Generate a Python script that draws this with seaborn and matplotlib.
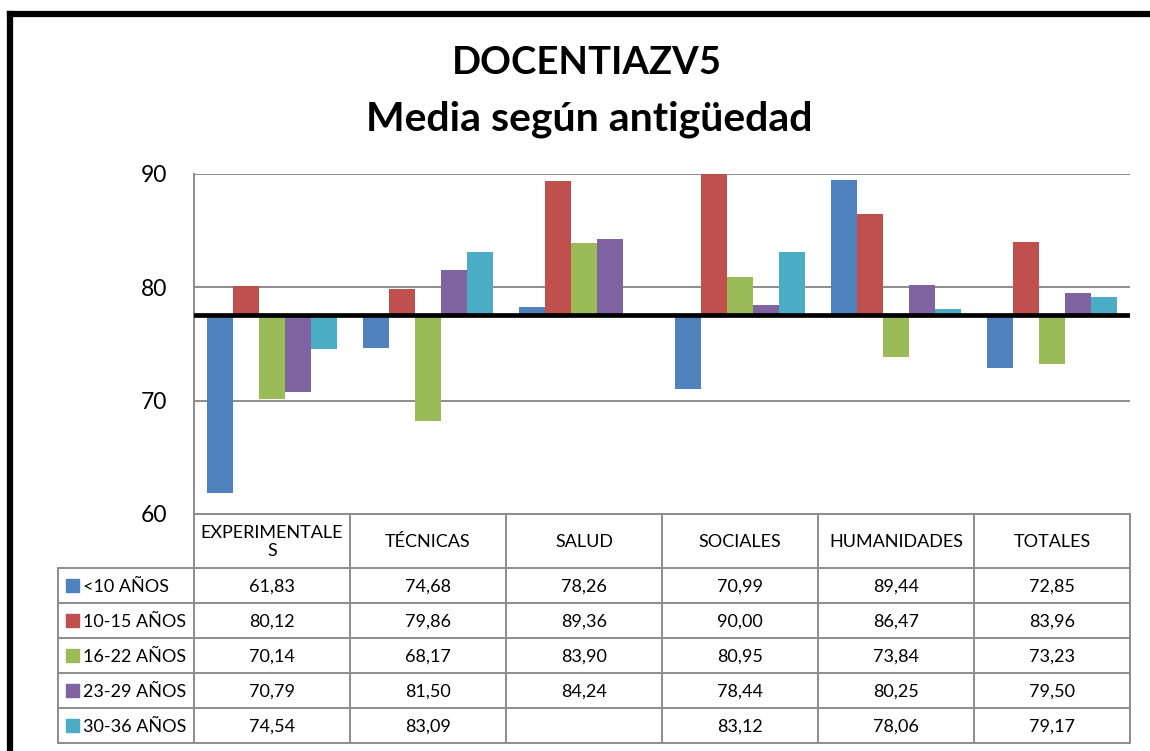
import numpy as np
import pandas as pd
import seaborn as sns
import matplotlib.pyplot as plt
from matplotlib.transforms import blended_transform_factory
from matplotlib.patches import Rectangle

areas = ["EXPERIMENTALES", "TÉCNICAS", "SALUD", "SOCIALES", "HUMANIDADES", "TOTALES"]
area_labels = ["EXPERIMENTALE\nS", "TÉCNICAS", "SALUD", "SOCIALES", "HUMANIDADES", "TOTALES"]
groups = ["<10 AÑOS", "10-15 AÑOS", "16-22 AÑOS", "23-29 AÑOS", "30-36 AÑOS"]
menos_10 = [61.83, 74.68, 78.26, 70.99, 89.44, 72.85]
anios_10_15 = [80.12, 79.86, 89.36, 90.00, 86.47, 83.96]
anios_16_22 = [70.14, 68.17, 83.90, 80.95, 73.84, 73.23]
anios_23_29 = [70.79, 81.50, 84.24, 78.44, 80.25, 79.50]
anios_30_36 = [74.54, 83.09, np.nan, 83.12, 78.06, 79.17]
base = 77.6  # horizontal reference line the bars grow from
yticks = [60, 70, 80, 90]

colors = ["#4F81BD", "#C0504D", "#9BBB59", "#8064A2", "#4BACC6"]

series = [menos_10, anios_10_15, anios_16_22, anios_23_29, anios_30_36]
df = pd.DataFrame({
    "area": np.tile(areas, len(groups)),
    "group": np.repeat(groups, len(areas)),
    "value": np.concatenate(series),
})
df["diff"] = df["value"] - base
df_plot = df.dropna()

sns.set_style("white")
plt.rcParams['font.family'] = ['Lato', 'DejaVu Sans']
plt.rcParams['text.color'] = 'black'
plt.rcParams['ytick.color'] = 'black'
plt.rcParams['ytick.labelcolor'] = 'black'

fig = plt.figure(figsize=(11.5, 7.51), dpi=100)
W, H = 1150, 751
ax = fig.add_axes([194 / W, 1 - 514 / H, (1130 - 194) / W, (514 - 174) / H])

sns.barplot(data=df_plot, x="area", y="diff", hue="group", order=areas, hue_order=groups,
            palette=colors, saturation=1, width=5 / 6, errorbar=None, legend=False,
            linewidth=0, ax=ax)

ax.set_xlim(-0.5, len(areas) - 0.5)
ax.set_ylim(yticks[0] - base, yticks[-1] - base)
ax.set_yticks(np.array(yticks) - base)
ax.set_yticklabels([str(t) for t in yticks], fontsize=16.5, color="black")
ax.set_xticks([])
ax.set_xlabel("")
ax.set_ylabel("")
ax.tick_params(axis="y", length=0, pad=19)
ax.yaxis.grid(True, color="#8c8c8c", linewidth=1.4)
ax.set_axisbelow(True)
for s in ["top", "right", "bottom"]:
    ax.spines[s].set_visible(False)
ax.spines["left"].set_color("#8c8c8c")
ax.spines["left"].set_linewidth(1.4)
ax.axhline(0, color="black", linewidth=3.4, zorder=5)

# overlay in pixel coordinates for title, table and frame
ov = fig.add_axes([0, 0, 1, 1])
ov.set_xlim(0, W)
ov.set_ylim(H, 0)
ov.axis("off")
tr = blended_transform_factory(ax.transData, ov.transData)

# frame
ov.plot([10, 10], [13.5, H], color="black", lw=4.5, solid_capstyle="projecting")
ov.plot([10, W], [13.5, 13.5], color="black", lw=4.5, solid_capstyle="projecting")

# title
ov.text(587, 74, "DOCENTIAZV5", ha="center", va="baseline", fontsize=27.5, fontweight="bold")
ov.text(589, 130, "Media según antigüedad", ha="center", va="baseline", fontsize=29.5, fontweight="bold")

# data table
grid_c = "#8c8c8c"
head_top, head_bot, row_h = 514, 568, 35
n_rows = len(groups)
table_bot = head_bot + n_rows * row_h
legend_left = 58
for i in range(len(areas) + 1):
    ov.plot([i - 0.5, i - 0.5], [head_top, table_bot], color=grid_c, lw=1.4, transform=tr)
ov.plot([legend_left, legend_left], [head_bot, table_bot], color=grid_c, lw=1.4)
ov.plot([194, 1130], [head_top, head_top], color=grid_c, lw=1.4)
for r in range(n_rows + 1):
    y = head_bot + r * row_h
    ov.plot([legend_left, 1130], [y, y], color=grid_c, lw=1.4)

for i, lab in enumerate(area_labels):
    ov.text(i, (head_top + head_bot) / 2 + 1, lab, ha="center", va="center",
            fontsize=13, transform=tr, linespacing=1.2)

for r, (g, vals, c) in enumerate(zip(groups, series, colors)):
    yc = head_bot + r * row_h + row_h / 2
    ov.add_patch(Rectangle((66, yc - 6.5), 13, 13, color=c))
    ov.text(83, yc + 1, g, ha="left", va="center", fontsize=13)
    for i, v in enumerate(vals):
        if np.isnan(v):
            continue
        ov.text(i, yc + 1, f"{v:.2f}".replace(".", ","), ha="center", va="center",
                fontsize=13, transform=tr)

fig.savefig("out.png", dpi=100)
